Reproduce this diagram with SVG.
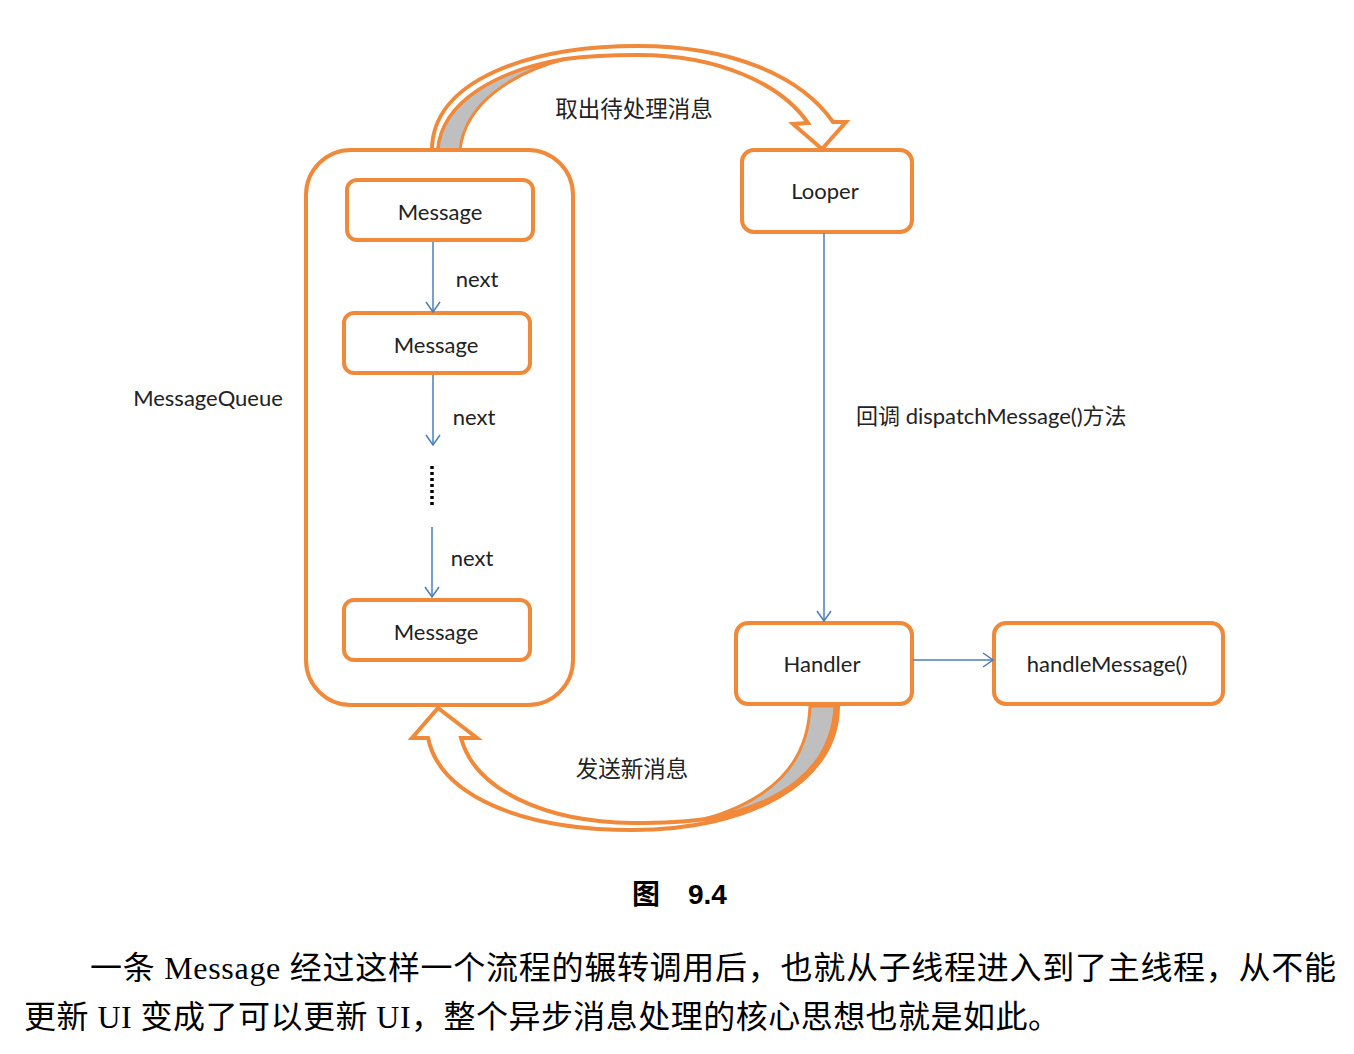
<svg xmlns="http://www.w3.org/2000/svg" width="1354" height="1054" viewBox="0 0 1354 1054">
<defs>
<style>
.box{fill:#fff;stroke:#F0893A;stroke-width:4}
.band{fill:#fff;stroke:#F0893A;stroke-width:4;stroke-linejoin:miter}
.shade{fill:#BFBFBF;stroke:#F0893A;stroke-width:3}
.conn{fill:none;stroke:#4A7EBB;stroke-width:1.5}
.lbl{font-family:Lato,"Open Sans","Noto Sans CJK SC",sans-serif;font-size:22px;fill:#222;text-anchor:middle;dominant-baseline:central}
.lbl-start{font-family:Lato,"Open Sans","Noto Sans CJK SC",sans-serif;font-size:22px;fill:#222;text-anchor:start;dominant-baseline:central}
.cjk{font-family:"Noto Sans CJK SC",sans-serif;font-size:22.5px;fill:#222;text-anchor:middle;dominant-baseline:central}
.para{font-family:"Liberation Serif","Noto Sans CJK SC",serif;font-size:32px;fill:#000}
</style>
<marker id="arr" viewBox="0 0 12 16" refX="11" refY="8" markerWidth="12" markerHeight="16" markerUnits="userSpaceOnUse" orient="auto">
<path d="M1,1 L11,8 L1,15" fill="none" stroke="#4A7EBB" stroke-width="1.5"/>
</marker>
</defs>
<rect width="1354" height="1054" fill="#fff"/>

<g id="arc-take">
<path class="band" d="M432,150 C432,80 530,46 638,46 C730,46 800,75 833,122 L846,122 L822,149 L793,124 L808,123 C782,85 720,55 638,55 C600,55 580,57 565,59 C500,70 442,100 438,150 Z"/>
<path class="shade" d="M438,150 C442,100 500,70 565,59 C515,72 465,102 460,150 Z"/>
<text class="cjk" x="634" y="107">取出待处理消息</text>
</g>

<g id="arc-send">
<path class="band" d="M838,706 C838,785 745,830 633,830 C520,830 440,795 428,738 L412,738 L438,708 L477,738 L461,738 C475,790 545,822 633,823 C660,823 685,822 705,819 C780,805 832,770 835,706 Z"/>
<path class="shade" d="M835,706 C832,770 780,805 705,819 C770,800 808,765 810,706 Z"/>
<text class="cjk" x="632" y="767">发送新消息</text>
</g>

<g id="messagequeue">
<rect class="box" x="306" y="150" width="267" height="555" rx="45"/>
<text class="lbl" x="208" y="397">MessageQueue</text>
</g>

<g id="message1">
<rect class="box" x="347" y="180" width="186" height="60" rx="10"/>
<text class="lbl" x="440" y="211">Message</text>
</g>
<g id="message2">
<rect class="box" x="344" y="313" width="186" height="60" rx="10"/>
<text class="lbl" x="436" y="344">Message</text>
</g>
<g id="message3">
<rect class="box" x="344" y="600" width="186" height="60" rx="10"/>
<text class="lbl" x="436" y="631">Message</text>
</g>
<g id="looper">
<rect class="box" x="742" y="150" width="170" height="82" rx="12"/>
<text class="lbl" x="825" y="190">Looper</text>
</g>
<g id="handler">
<rect class="box" x="736" y="623" width="176" height="81" rx="12"/>
<text class="lbl" x="822" y="663">Handler</text>
</g>
<g id="handlemessage">
<rect class="box" x="994" y="623" width="229" height="81" rx="12"/>
<text class="lbl" x="1107" y="663">handleMessage()</text>
</g>

<g id="connectors">
<path class="conn" d="M433,242 V312" marker-end="url(#arr)"/>
<path class="conn" d="M433,375 V445" marker-end="url(#arr)"/>
<line x1="432" y1="466" x2="432" y2="507" stroke="#000" stroke-width="3.5" stroke-dasharray="3,3"/>
<path class="conn" d="M432,527 V597" marker-end="url(#arr)"/>
<path class="conn" d="M824,233 V621" marker-end="url(#arr)"/>
<path class="conn" d="M913,660 H993" marker-end="url(#arr)"/>
<text class="lbl" x="477" y="278">next</text>
<text class="lbl" x="474" y="416">next</text>
<text class="lbl" x="472" y="557">next</text>
<text class="lbl-start" x="856" y="415">回调 dispatchMessage()方法</text>
</g>

<g id="caption">
<text x="632" y="904" font-family="'Liberation Sans','Noto Sans CJK SC',sans-serif" font-size="28" font-weight="bold" fill="#000">图</text>
<text x="688" y="904" font-family="'Liberation Sans',sans-serif" font-size="28" font-weight="bold" fill="#000">9.4</text>
<text class="para" x="90" y="979" textLength="1246" lengthAdjust="spacing">一条 Message 经过这样一个流程的辗转调用后，也就从子线程进入到了主线程，从不能</text>
<text class="para" x="24" y="1028" textLength="1036" lengthAdjust="spacing">更新 UI 变成了可以更新 UI，整个异步消息处理的核心思想也就是如此。</text>
</g>
</svg>
